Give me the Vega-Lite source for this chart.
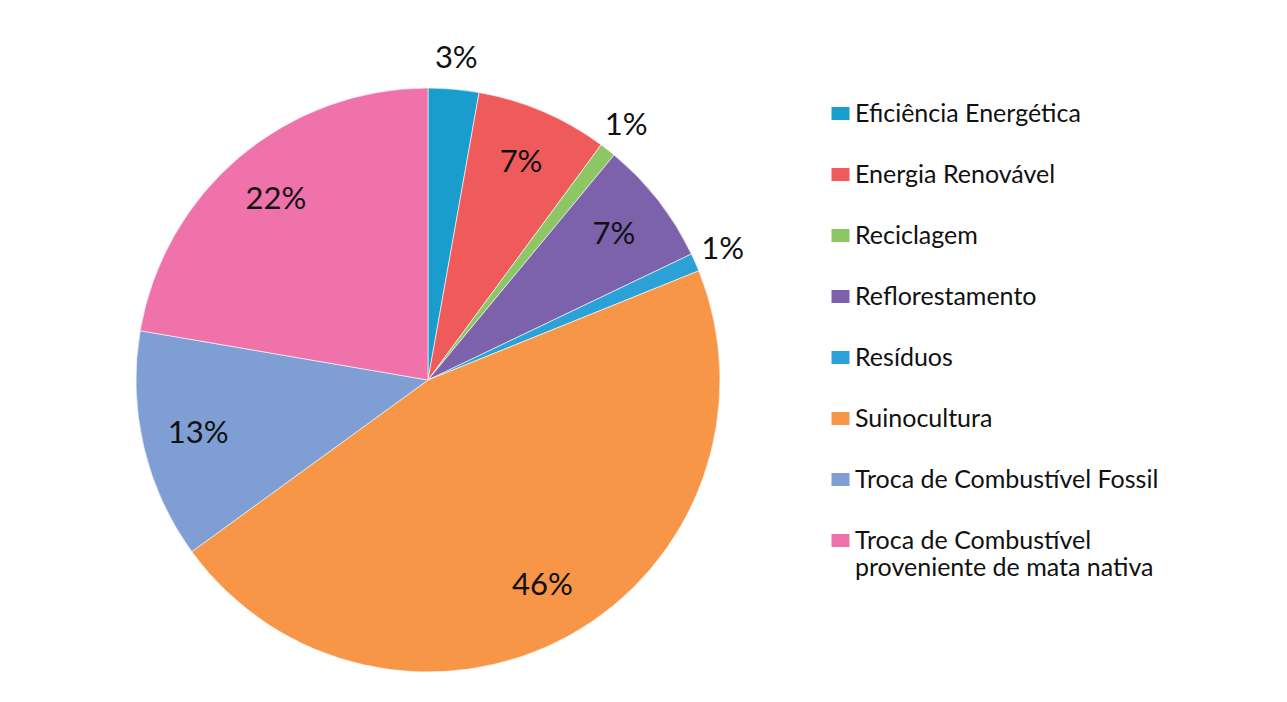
{
  "$schema": "https://vega.github.io/schema/vega-lite/v6.json",
  "width": 584,
  "height": 584,
  "autosize": {"type": "none"},
  "padding": {"left": 136, "top": 88, "right": 567, "bottom": 30},
  "background": "white",
  "config": {"view": {"stroke": null}},
  "data": {
    "values": [
      {"cat": "Eficiência Energética", "value": 2.8, "label": "3%"},
      {"cat": "Energia Renovável", "value": 7.3, "label": "7%"},
      {"cat": "Reciclagem", "value": 0.9, "label": "1%"},
      {"cat": "Reflorestamento", "value": 6.9, "label": "7%"},
      {"cat": "Resíduos", "value": 1.0, "label": "1%"},
      {"cat": "Suinocultura", "value": 46.1, "label": "46%"},
      {"cat": "Troca de Combustível Fossil", "value": 12.7, "label": "13%"},
      {"cat": "Troca de Combustível proveniente de mata nativa", "value": 22.3, "label": "22%"}
    ]
  },
  "layer": [
    {
      "mark": {"type": "arc", "outerRadius": 292, "stroke": "white", "strokeWidth": 0.6},
      "encoding": {
        "theta": {"field": "value", "type": "quantitative", "stack": true},
        "order": {"field": "cat", "type": "nominal", "sort": "ascending"},
        "color": {
          "field": "cat",
          "type": "nominal",
          "scale": {
            "domain": ["Eficiência Energética", "Energia Renovável", "Reciclagem", "Reflorestamento", "Resíduos", "Suinocultura", "Troca de Combustível Fossil", "Troca de Combustível proveniente de mata nativa"],
            "range": ["#189dcd", "#ef5b5b", "#8cc665", "#7b62aa", "#2ca1d8", "#f79646", "#7f9fd4", "#ef72aa"]
          },
          "legend": {
            "orient": "none",
            "legendX": 692,
            "legendY": 13,
            "title": null,
            "symbolType": "M-1,-0.72L1,-0.72L1,0.72L-1,0.72Z",
            "symbolSize": 324,
            "symbolStrokeWidth": 0,
            "labelFont": "Lato",
            "labelFontSize": 25,
            "labelColor": "#111111",
            "labelOffset": 2,
            "labelLimit": 600,
            "rowPadding": 35,
            "labelExpr": "datum.label == 'Troca de Combustível proveniente de mata nativa' ? ['Troca de Combustível', 'proveniente de mata nativa'] : datum.label"
          }
        }
      }
    },
    {
      "mark": {"type": "text", "radius": 236, "font": "Lato", "fontSize": 31, "color": "#111111"},
      "encoding": {
        "theta": {"field": "value", "type": "quantitative", "stack": true},
        "order": {"field": "cat", "type": "nominal", "sort": "ascending"},
        "detail": {"field": "cat", "type": "nominal"},
        "text": {"condition": {"test": "datum.value < 5", "value": ""}, "field": "label", "type": "nominal"}
      }
    },
    {
      "mark": {"type": "text", "radius": 322, "font": "Lato", "fontSize": 31, "color": "#111111"},
      "encoding": {
        "theta": {"field": "value", "type": "quantitative", "stack": true},
        "order": {"field": "cat", "type": "nominal", "sort": "ascending"},
        "detail": {"field": "cat", "type": "nominal"},
        "text": {"condition": {"test": "datum.value >= 5", "value": ""}, "field": "label", "type": "nominal"}
      }
    }
  ]
}
